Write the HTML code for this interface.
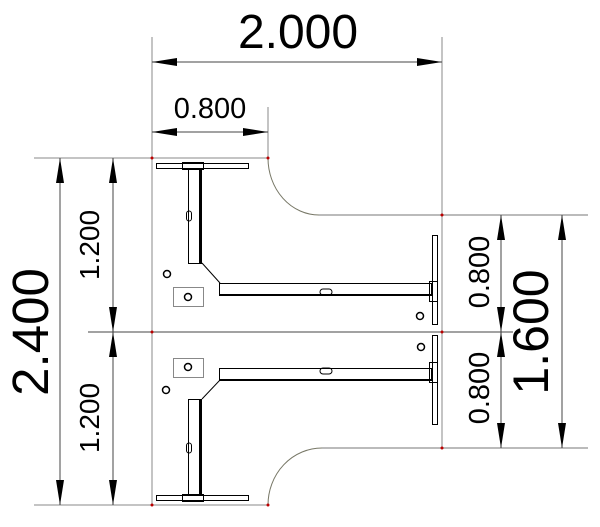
<!DOCTYPE html>
<html><head><meta charset="utf-8"><style>html,body{margin:0;padding:0;background:#fff}svg{display:block}text{font-family:"Liberation Sans",Arial,sans-serif;fill:#000}</style></head>
<body>
<svg width="600" height="527" viewBox="0 0 600 527" xmlns="http://www.w3.org/2000/svg">
<g fill="none" stroke="#888" stroke-width="1">
<line x1="152" y1="37" x2="152" y2="505"/>
<line x1="442" y1="37" x2="442" y2="448"/>
<line x1="268" y1="107" x2="268" y2="158"/>
<line x1="34" y1="158" x2="268" y2="158"/>
<line x1="34" y1="505" x2="268" y2="505"/>
<line x1="88" y1="332" x2="513" y2="332" stroke="#444"/>
<line x1="319" y1="215" x2="588" y2="215" stroke-width="2" stroke="#bbb"/>
<line x1="322" y1="448" x2="588" y2="448" stroke-width="2" stroke="#bbb"/>
<line x1="152" y1="62" x2="442" y2="62" stroke="#444"/>
<line x1="152" y1="132" x2="268" y2="132" stroke="#444"/>
<line x1="60" y1="158" x2="60" y2="505" stroke="#444"/>
<line x1="113" y1="158" x2="113" y2="505" stroke="#444"/>
<line x1="501" y1="215" x2="501" y2="448" stroke="#444"/>
<line x1="562" y1="215" x2="562" y2="448" stroke="#444"/>
</g>
<path d="M268 158 A51 57 0 0 0 319 215" fill="none" stroke="#776" stroke-width="1"/>
<path d="M268 505 A54 57 0 0 1 322 448" fill="none" stroke="#776" stroke-width="1"/>
<g fill="#000">
<polygon points="152,62 177,58 177,66"/><polygon points="442,62 417,58 417,66"/>
<polygon points="152,132 177,128 177,136"/><polygon points="268,132 243,128 243,136"/>
<polygon points="60,158 56,183 64,183"/><polygon points="60,505 56,480 64,480"/>
<polygon points="113,158 109,183 117,183"/><polygon points="113,332 109,307 117,307"/>
<polygon points="113,332 109,357 117,357"/><polygon points="113,505 109,480 117,480"/>
<polygon points="501,215 497,240 505,240"/><polygon points="501,332 497,307 505,307"/>
<polygon points="501,332 497,357 505,357"/><polygon points="501,448 497,423 505,423"/>
<polygon points="562,215 558,240 566,240"/><polygon points="562,448 558,423 566,423"/>
</g>
<g fill="#b00">
<circle cx="152" cy="158" r="1.5"/><circle cx="268" cy="158" r="1.5"/><circle cx="442" cy="215" r="1.5"/>
<circle cx="152" cy="332" r="1.5"/><circle cx="442" cy="332" r="1.5"/><circle cx="442" cy="448" r="1.5"/>
<circle cx="152" cy="505" r="1.5"/><circle cx="268" cy="505" r="1.5"/>
</g>
<g fill="none" stroke="#000" stroke-width="1">
<rect x="156.5" y="163.5" width="92" height="5"/>
<rect x="182.5" y="162.5" width="21" height="7"/>
<rect x="188.5" y="168.5" width="13" height="95"/>
<line x1="200" y1="169" x2="200" y2="263" stroke-width="2"/>
<rect x="186.5" y="211" width="5" height="10" rx="2.5"/>
<line x1="202" y1="263" x2="220" y2="283"/>
<rect x="219.5" y="283.5" width="212" height="12"/>
<line x1="220" y1="295" x2="432" y2="295" stroke-width="2"/>
<rect x="320" y="289" width="12" height="6" rx="3"/>
<rect x="432.5" y="235.5" width="5" height="89"/>
<rect x="429.5" y="281.5" width="8" height="20"/>
<rect x="173.5" y="287.5" width="30" height="19" stroke="#888"/>
<circle cx="188" cy="297" r="3.5" stroke-width="1.5"/>
<circle cx="167" cy="274" r="3.5" stroke-width="1.5"/>
<circle cx="420" cy="316" r="3.5" stroke-width="1.5"/>
<rect x="156.5" y="495.5" width="92" height="5"/>
<rect x="182.5" y="494.5" width="21" height="7"/>
<rect x="188.5" y="399.5" width="13" height="96"/>
<line x1="200" y1="400" x2="200" y2="495" stroke-width="2"/>
<rect x="186.5" y="443" width="5" height="10" rx="2.5"/>
<line x1="202" y1="399" x2="220" y2="380"/>
<rect x="219.5" y="368.5" width="212" height="12"/>
<line x1="220" y1="380" x2="432" y2="380" stroke-width="2"/>
<rect x="320" y="368" width="12" height="6" rx="3"/>
<rect x="432.5" y="335.5" width="5" height="89"/>
<rect x="429.5" y="362.5" width="8" height="20"/>
<rect x="173.5" y="358.5" width="30" height="19" stroke="#888"/>
<circle cx="188" cy="367" r="3.5" stroke-width="1.5"/>
<circle cx="166" cy="390" r="3.5" stroke-width="1.5"/>
<circle cx="421" cy="347" r="3.5" stroke-width="1.5"/>
</g>
<text x="298" y="48" font-size="48" text-anchor="middle">2.000</text>
<text x="210" y="118" font-size="29" text-anchor="middle">0.800</text>
<text transform="translate(48,332) rotate(-90)" font-size="51" text-anchor="middle">2.400</text>
<text transform="translate(99,245) rotate(-90)" font-size="28" text-anchor="middle">1.200</text>
<text transform="translate(99,418) rotate(-90)" font-size="28" text-anchor="middle">1.200</text>
<text transform="translate(489,272) rotate(-90)" font-size="29" text-anchor="middle">0.800</text>
<text transform="translate(489,388) rotate(-90)" font-size="29" text-anchor="middle">0.800</text>
<text transform="translate(548,332) rotate(-90)" font-size="50" text-anchor="middle">1.600</text>
</svg>
</body></html>
